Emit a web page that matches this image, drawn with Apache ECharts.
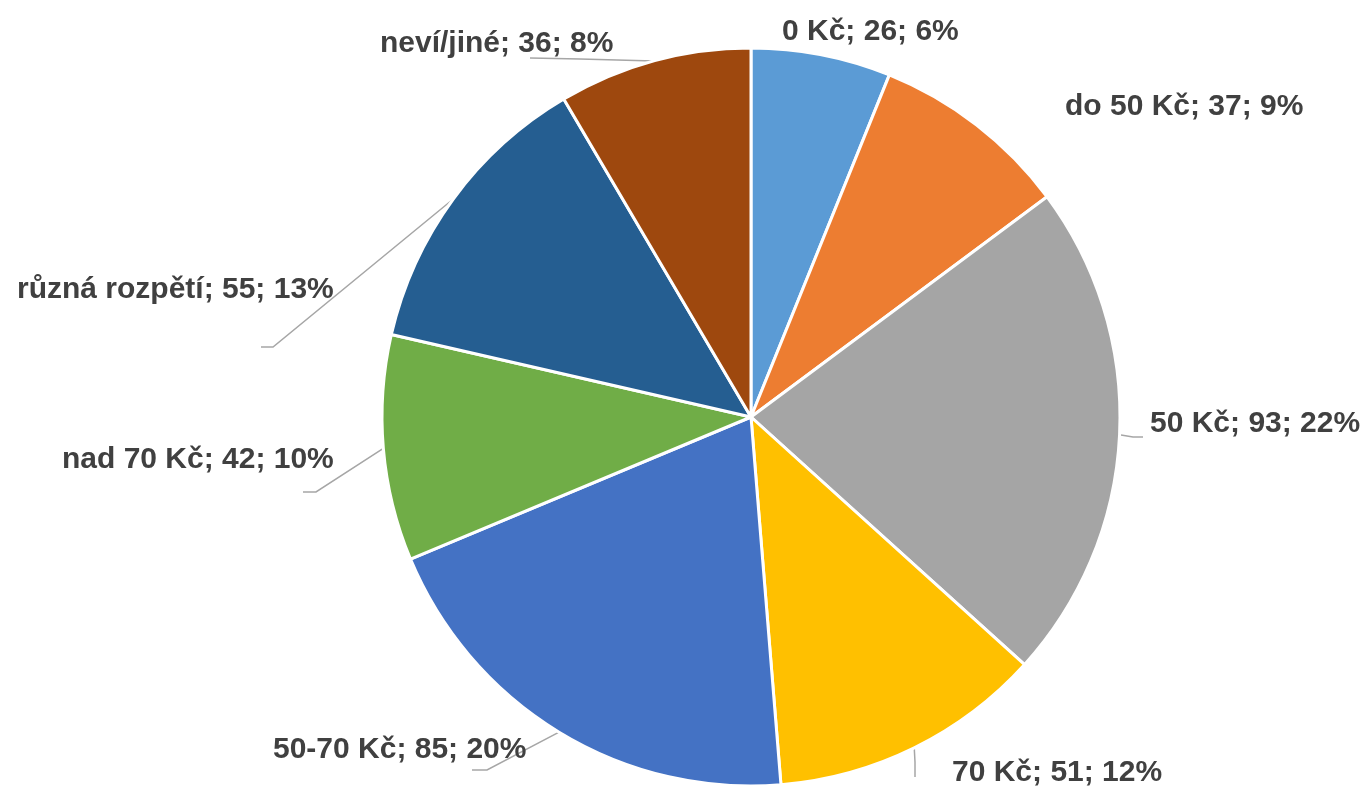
<!DOCTYPE html>
<html>
<head>
<meta charset="utf-8">
<script src="https://cdn.jsdelivr.net/npm/echarts@6/dist/echarts.min.js"></script>
<style>
  html, body { margin: 0; padding: 0; background: #fff; }
  #chart { width: 1367px; height: 791px; }
</style>
</head>
<body>
<div id="chart"></div>
<script>
var categories = ['0 Kč', 'do 50 Kč', '50 Kč', '70 Kč', '50-70 Kč', 'nad 70 Kč', 'různá rozpětí', 'neví/jiné'];
var counts = [26, 37, 93, 51, 85, 42, 55, 36];
var colors = ['#5B9BD5', '#ED7D31', '#A5A5A5', '#FFC000', '#4472C4', '#70AD47', '#255E91', '#9E480E'];

// label placement: left edge x, middle y
var labelPos = [[782, 32], [1065, 107], [1150, 424], [952, 773], [273, 750], [62, 460], [17, 290], [380, 44]];
// leader line bend + end (start comes from the slice edge)
var leaderEnds = [
  null,
  null,
  [[1133, 437], [1143, 437]],
  [[915, 762], [915, 777]],
  [[487, 770], [472, 770]],
  [[316, 492], [303, 492]],
  [[273, 347], [261, 347]],
  [[580, 59], [530, 58]]
];

var total = counts.reduce(function (a, b) { return a + b; }, 0);

var data = [];
for (var i = 0; i < categories.length; i++) {
  var item = { name: categories[i], value: counts[i], itemStyle: { color: colors[i] } };
  if (!leaderEnds[i]) item.labelLine = { show: false };
  data.push(item);
}

var myChart = echarts.init(document.getElementById('chart'));
myChart.setOption({
  animation: false,
  series: [{
    type: 'pie',
    center: [751, 417],
    radius: 369,
    startAngle: 90,
    clockwise: true,
    avoidLabelOverlap: false,
    data: data,
    itemStyle: { borderColor: '#fff', borderWidth: 3 },
    emphasis: { disabled: true },
    label: {
      show: true,
      position: 'outside',
      fontFamily: 'Liberation Sans',
      fontWeight: 'bold',
      fontSize: 30,
      color: '#404040',
      formatter: function (p) {
        return p.name + '; ' + p.value + '; ' + Math.round(p.value / total * 100) + '%';
      }
    },
    labelLine: {
      show: true,
      length: 10,
      length2: 10,
      lineStyle: { color: '#A6A6A6', width: 1.5 }
    },
    labelLayout: function (params) {
      var i = params.dataIndex;
      var out = { x: labelPos[i][0], y: labelPos[i][1], align: 'left', verticalAlign: 'middle' };
      if (leaderEnds[i] && params.labelLinePoints) {
        out.labelLinePoints = [params.labelLinePoints[0]].concat(leaderEnds[i]);
      }
      return out;
    }
  }]
});
</script>
</body>
</html>
